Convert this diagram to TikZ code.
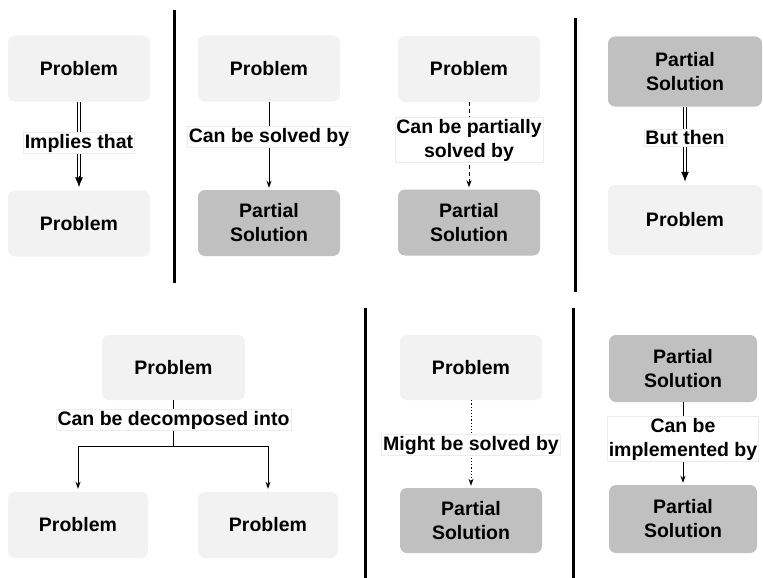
\documentclass[tikz,border=0pt]{standalone}
\usepackage{fontspec}
\setmainfont{Liberation Sans}
\usetikzlibrary{arrows.meta}
\definecolor{probfill}{RGB}{242,242,242}
\definecolor{partfill}{RGB}{192,192,192}
\definecolor{lblborder}{RGB}{236,236,236}
\newcommand{\boxfont}{\bfseries\fontsize{19.5}{24}\selectfont}
\begin{document}
\begin{tikzpicture}[x=1pt,y=-1pt,
  box/.style={rounded corners=7pt, minimum width=142pt, minimum height=66pt,
    inner sep=0pt, align=center, font=\boxfont},
  prob/.style={box, fill=probfill},
  part/.style={box, fill=partfill},
  lbl/.style={fill=white, draw=lblborder, line width=0.6pt, inner sep=1.5pt,
    align=center, font=\boxfont},
  conn/.style={line width=1pt, -{Stealth[length=7pt,width=5pt]}, shorten >=2pt},
  dashconn/.style={conn, dash pattern=on 4pt off 3pt},
  dotconn/.style={conn, dash pattern=on 1.2pt off 2pt},
  dblline/.style={double, double distance=2.4pt, line width=0.9pt, shorten >=10pt},
  dbltip/.style={line width=1pt, -{Latex[length=10pt,width=8pt]}, shorten >=3pt},
  sep/.style={line width=3pt}
]
\useasboundingbox (0,0) rectangle (763,578);

% separators between the panels
\draw[sep] (174,10) -- (174,283);
\draw[sep] (575,18) -- (575,292);
\draw[sep] (365,308) -- (365,578);
\draw[sep] (573,308) -- (573,578);

% ---------- top row ----------
\node[prob] (A1) at (79,68.5) {Problem};
\node[prob] (A2) at (79,223.5) {Problem};

\node[prob] (B1) at (269,68.5) {Problem};
\node[part] (B2) at (269,223) {Partial\\Solution};

\node[prob] (C1) at (469,69) {Problem};
\node[part] (C2) at (469,222.5) {Partial\\Solution};

\node[part, minimum width=154pt, minimum height=70pt] (D1) at (685,71.5) {Partial\\Solution};
\node[prob, minimum width=154pt, minimum height=70pt] (D2) at (685,220) {Problem};

% double "implication" arrows: double shaft plus a solid head
\draw[dblline] (A1.south) -- (A2.north);
\draw[dbltip, shorten <=74pt] (A1.south) -- (A2.north);
\draw[conn] (B1.south) -- (B2.north);
\draw[dashconn] (C1.south) -- (C2.north);
\draw[dblline] (D1.south) -- (D2.north);
\draw[dbltip, shorten <=65pt] (D1.south) -- (D2.north);

\node[lbl] (lA) at (79,143) {Implies that};
\node[lbl] (lB) at (269,137) {Can be solved by};
\node[lbl] (lC) at (469,140) {Can be partially\\solved by};
\node[lbl] (lD) at (685,138) {But then};

% ---------- bottom row ----------
\node[prob, minimum width=143pt, minimum height=65pt] (E1) at (173.5,367.5) {Problem};
\node[prob, minimum width=140pt] (E2) at (78,525) {Problem};
\node[prob, minimum width=140pt] (E3) at (268,525) {Problem};

\node[prob, minimum height=65pt] (F1) at (471,367.5) {Problem};
\node[part, minimum height=65pt] (F2) at (471,520.5) {Partial\\Solution};

\node[part, minimum width=148pt, minimum height=67pt] (G1) at (683,368.5) {Partial\\Solution};
\node[part, minimum width=148pt, minimum height=68pt] (G2) at (683,519) {Partial\\Solution};

\coordinate (split) at (173.5,446);
\draw[line width=1pt] (E1.south) -- (split);
\draw[conn, shorten >=3pt] (split) -| (E2.north);
\draw[conn, shorten >=3pt] (split) -| (E3.north);

\draw[dotconn] (F1.south) -- (F2.north);
\draw[conn] (G1.south) -- (G2.north);

\node[lbl] (lE) at (173.5,420) {Can be decomposed into};
\node[lbl] (lF) at (471,445) {Might be solved by};
\node[lbl] (lG) at (683,439) {Can be\\implemented by};
\end{tikzpicture}
\end{document}
